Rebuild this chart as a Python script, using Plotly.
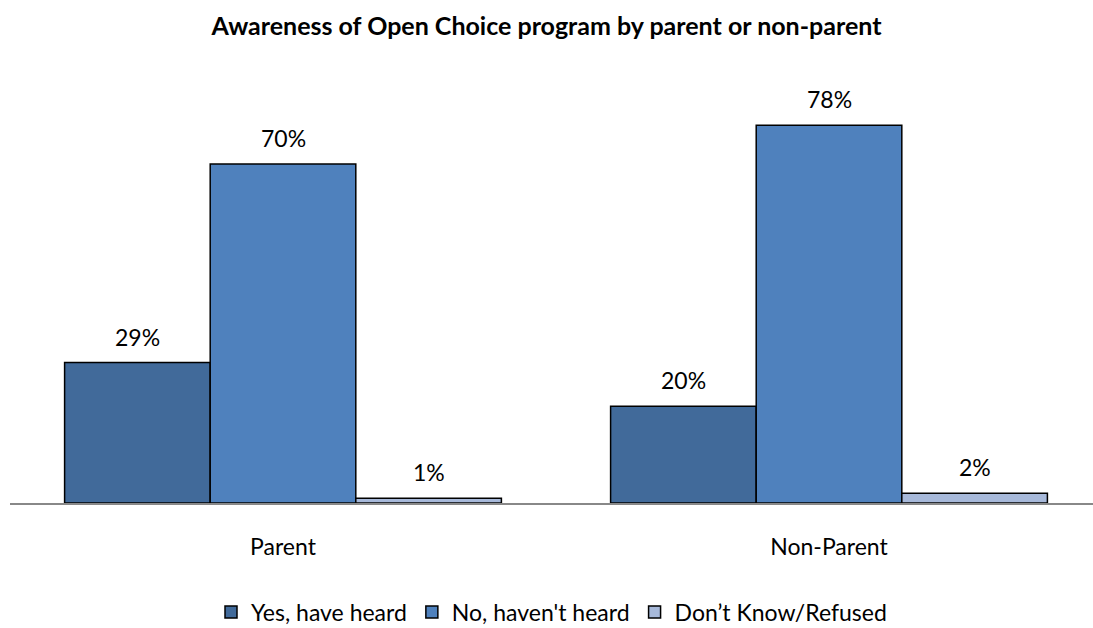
import plotly.graph_objects as go

categories = ["Parent", "Non-Parent"]
series_names = ["Yes, have heard", "No, haven't heard", "Don\u2019t Know/Refused"]
yes_heard = [29, 20]
no_heard = [70, 78]
dont_know = [1, 2]
series_values = [yes_heard, no_heard, dont_know]
colors = ["#416A9A", "#4F81BD", "#A7B9DA"]

FONT = "Lato"
TXT = 23

fig = go.Figure()
for name, vals, col in zip(series_names, series_values, colors):
    fig.add_trace(go.Bar(
        name=name, x=categories, y=vals,
        marker=dict(color=col, line=dict(color="#000000", width=1.5)),
    ))

# value labels above each bar
group_frac = 0.8
n = len(series_values)
annotations = []
for k, vals in enumerate(series_values):
    off = (k - (n - 1) / 2) * group_frac / n
    for i, v in enumerate(vals):
        annotations.append(dict(
            x=i + off, y=v, xref="x", yref="y", text=f"{v}%",
            showarrow=False, yshift=26, yanchor="middle",
            font=dict(family=FONT, size=TXT, color="#000000"),
        ))

fig.update_layout(
    width=1093, height=628,
    paper_bgcolor="white", plot_bgcolor="white",
    barmode="group", bargap=0.2, bargroupgap=0,
    margin=dict(l=10, r=0, t=60, b=125, autoexpand=False),
    title=dict(text="<b>Awareness of Open Choice program by parent or non-parent</b>",
               x=0.5, xanchor="center", y=1 - 26 / 628, yanchor="middle",
               font=dict(family=FONT, size=25, color="#000000")),
    xaxis=dict(range=[-0.5, 1.4835], showline=True, linecolor="#888888", linewidth=2,
               ticks="outside", ticklen=22, tickcolor="rgba(0,0,0,0)", automargin=False,
               tickfont=dict(family=FONT, size=TXT, color="#000000"), fixedrange=True),
    yaxis=dict(range=[0, 91.5], visible=False, showgrid=False, zeroline=False),
    showlegend=True,
    legend=dict(orientation="h", x=0.5, xanchor="center",
                yref="container", y=(628 - 612) / 628, yanchor="middle",
                font=dict(family=FONT, size=TXT, color="#000000"),
                itemwidth=30, traceorder="normal"),
    annotations=annotations,
)

fig.write_html("out.html")
